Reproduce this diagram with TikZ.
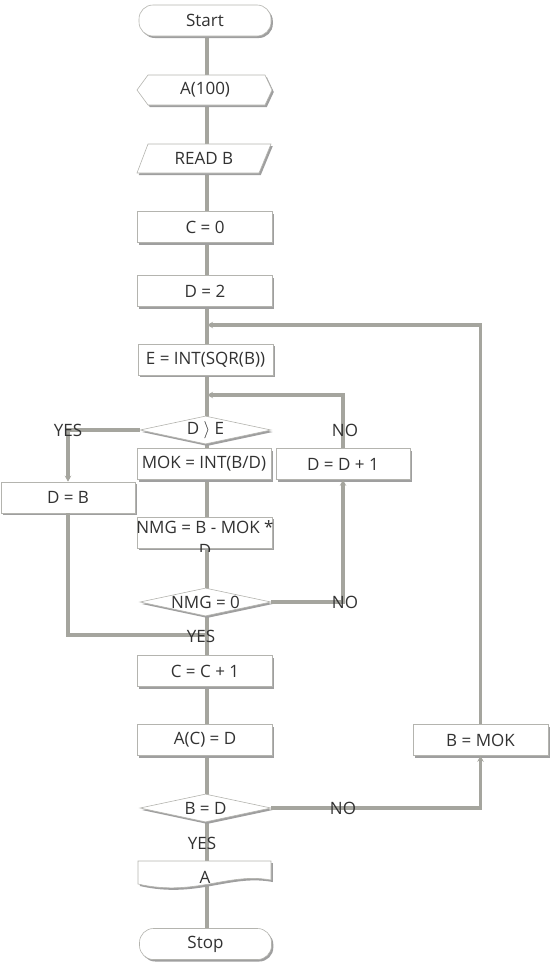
\documentclass[tikz,border=0pt]{standalone}
\usepackage{fontspec}
\setmainfont{Open Sans}
\usetikzlibrary{shapes.geometric,shadows,arrows.meta}
\definecolor{linec}{RGB}{165,165,158}
\definecolor{edgec}{RGB}{180,180,175}
\definecolor{txtc}{RGB}{50,50,50}
\newcommand{\fcfont}{\fontsize{17}{19}\selectfont}
\tikzset{
  shad/.style={drop shadow={shadow xshift=1.8pt, shadow yshift=-2pt, fill=gray!75, opacity=1}},
  box/.style={rectangle, draw=edgec, line width=0.6pt, fill=white, minimum width=135pt,
    minimum height=31pt, inner sep=0pt, shad, text=txtc, font=\fcfont},
  term/.style={box, rounded corners=14pt, minimum width=132pt},
  dec/.style={diamond, aspect=4.7, draw=edgec, line width=0.6pt, fill=white, inner sep=0pt,
    minimum width=131pt, minimum height=28pt, shad, text=txtc, font=\fcfont},
  shp/.style={draw=edgec, line width=0.6pt, fill=white, shad},
  txt/.style={text=txtc, font=\fcfont, inner sep=0pt},
  conn/.style={draw=linec, line width=3.2pt},
  arr/.style={conn, -{Stealth[length=6pt,width=6.5pt]}},
}
\begin{document}
\begin{tikzpicture}[x=1pt,y=-1pt]
\useasboundingbox (0,0) rectangle (550,964);
% junction points on the main line
\coordinate (top) at (207,20);
\coordinate (bot) at (207,944);
\coordinate (j1) at (207,325);
\coordinate (j2) at (207,395);
\coordinate (j3) at (207,635);
% main vertical line
\draw[conn] (top) -- (bot);
% shapes
\node[term] (start) at (205,20.5) {Start};
\path[shp] (148,75) -- (265,75) -- (272,90) -- (265,105) -- (148,105) -- (137,90) -- cycle;
\node[txt] (a100) at (205,90) {A(100)};
\path[shp] (148,144) -- (271,144) -- (259,173) -- (137,173) -- cycle;
\node[txt] (readb) at (204,158.5) {READ B};
\node[box] (c0) at (205,227) {C = 0};
\node[box] (d2) at (205,291) {D = 2};
\node[box] (e) at (205.5,359.5) {E = INT(SQR(B))};
\node[dec] (dge) at (205.5,430) {D \raisebox{0.5pt}{$\rangle$} E};
\node[box, minimum width=134pt] (mok) at (204,464) {MOK = INT(B/D)};
\node[box, minimum width=134pt] (dd1) at (343,464) {D = D + 1};
\node[box, minimum width=134pt] (db) at (68,497.5) {D = B};
\node[box] (nmg) at (205,532.5) {};
\node[txt] (nmgt) at (205,527.5) {NMG = B - MOK *};
\begin{scope}
\clip (150,540) rectangle (260,551.5);
\node[txt] (nmgd) at (205,550) {D};
\end{scope}
\node[dec] (nmg0) at (205.5,602) {NMG = 0};
\node[box] (cc1) at (205,671) {C = C + 1};
\node[box] (ac) at (205,740) {A(C) = D};
\node[box] (bmok) at (480.5,740) {B = MOK};
\node[dec] (bd) at (205.5,808) {B = D};
\path[shp] (138,861) -- (271,861) -- (271,880) .. controls (228,872) and (195,897) .. (138,884) -- cycle;
\node[txt] (doc) at (205,877) {A};
\node[term] (stop) at (205.5,944) {Stop};
% connectors
\draw[arr] (bmok.north) |- (j1);
\draw[arr] (dd1.north) |- (j2);
\draw[arr] (dge.west) -| (db.north);
\draw[arr] (nmg0.east) -| (dd1.south);
\draw[conn] (db.south) |- (j3);
\draw[arr] (bd.east) -| (bmok.south);
% labels
\node[txt] (l1) at (68,430) {YES};
\node[txt] (l2) at (345,430) {NO};
\node[txt] (l3) at (345,602) {NO};
\node[txt] (l4) at (201,636) {YES};
\node[txt] (l5) at (343,808) {NO};
\node[txt] (l6) at (202,843) {YES};
\end{tikzpicture}
\end{document}
